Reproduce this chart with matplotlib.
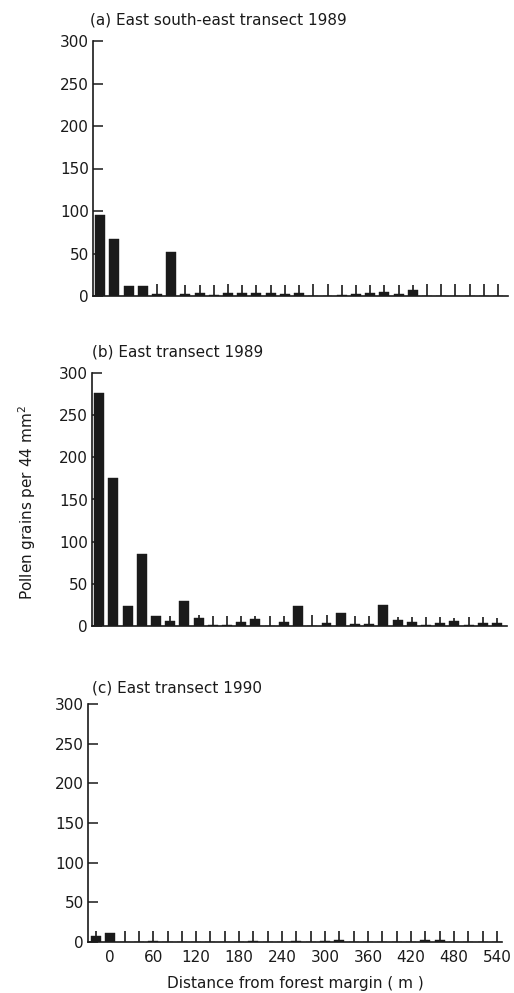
import matplotlib
matplotlib.use("Agg")
import matplotlib.pyplot as plt
import numpy as np

# ---- data ----
distance = [-20, 0, 20, 40, 60, 80, 100, 120, 140, 160, 180, 200, 220, 240, 260,
            280, 300, 320, 340, 360, 380, 400, 420, 440, 460, 480, 500, 520, 540]

counts_a = [95, 67, 12, 12, 2, 52, 2, 3, 1, 4, 3, 4, 4, 2, 4,
            0, 0, 1, 2, 3, 5, 2, 7, 0, 0, 0, 0, 0, 0]
upper_a = [None, None, None, None, 14, None, 13, 13, 13, 14, 13, 13, 13, 13, 13,
           14, 14, 13, 13, 13, 13, 13, 13, 14, 14, 14, 14, 14, 14]

counts_b = [276, 176, 24, 85, 12, 6, 30, 9, 1, 1, 5, 8, 0, 5, 24,
            0, 4, 16, 2, 2, 25, 7, 5, 1, 3, 6, 1, 3, 3]
upper_b = [None, None, None, None, None, 12, None, 13, 12, 12, 12, 12, 12, 12, None,
           13, 13, None, 12, 12, None, 11, 11, 11, 11, 10, 11, 11, 10]

counts_c = [7, 11, 0, 0, 1, 0, 0, 0, 0, 0, 0, 1, 0, 0, 1,
            0, 1, 2, 0, 0, 0, 0, 0, 3, 2, 0, 0, 0, 0]
upper_c = [14, None, 14, 14, 14, 14, 14, 14, 14, 14, 14, 14, 14, 14, 14,
           14, 14, 14, 14, 14, 14, 14, 14, 14, 14, 14, 14, 14, 14]

titles = ["(a) East south-east transect 1989",
          "(b) East transect 1989",
          "(c) East transect 1990"]
yticks = [0, 50, 100, 150, 200, 250, 300]
xticks = [0, 60, 120, 180, 240, 300, 360, 420, 480, 540]
ylabel = "Pollen grains per 44 mm$^2$"
xlabel = "Distance from forest margin ( m )"

# ---- layout ----
W, H = 514, 993
plt.rcParams['font.family'] = ['DejaVu Sans']
fig = plt.figure(figsize=(W / 100, H / 100), dpi=100)

def px_axes(left, right, top, bottom):
    return fig.add_axes([left / W, 1 - bottom / H, (right - left) / W, (bottom - top) / H])

panels = [
    (px_axes(93, 508, 41, 296), counts_a, upper_a, (-30, 554), (90, 20)),
    (px_axes(92, 507, 373, 626), counts_b, upper_b, (-30, 554), (92, 352)),
    (px_axes(88, 502, 704, 942), counts_c, upper_c, (-31, 547), (92, 688)),
]

ink = '#1a1a1a'
for i, (ax, counts, upper, xlim, tpos) in enumerate(panels):
    ax.bar(distance, counts, width=14, color=ink, edgecolor=ink, linewidth=0.3, zorder=2)
    ex = [d for d, u in zip(distance, upper) if u is not None]
    elo = [c for c, u in zip(counts, upper) if u is not None]
    ehi = [u for u in upper if u is not None]
    ax.vlines(ex, elo, ehi, color=ink, linewidth=1.2, zorder=3)
    ax.set_xlim(*xlim)
    ax.set_ylim(0, 300)
    for s in ['top', 'right']:
        ax.spines[s].set_visible(False)
    for s in ['left', 'bottom']:
        ax.spines[s].set_linewidth(1.2)
        ax.spines[s].set_color(ink)
    ax.set_yticks(yticks)
    ax.tick_params(axis='y', direction='in', length=7, width=1.1, pad=3,
                   labelsize=11, colors=ink)
    if i == 2:
        ax.set_xticks(xticks)
        ax.tick_params(axis='x', length=0, pad=6, labelsize=11, colors=ink)
        ax.set_xlabel(xlabel, fontsize=11, color=ink, labelpad=8)
    else:
        ax.set_xticks([])
    fig.text(tpos[0] / W, 1 - tpos[1] / H, titles[i], fontsize=11, color=ink,
             ha='left', va='center')

fig.text(27 / W, 1 - 503 / H, ylabel, rotation=90, fontsize=11, color=ink,
         ha='center', va='center')

fig.savefig("out.png", dpi=100)
